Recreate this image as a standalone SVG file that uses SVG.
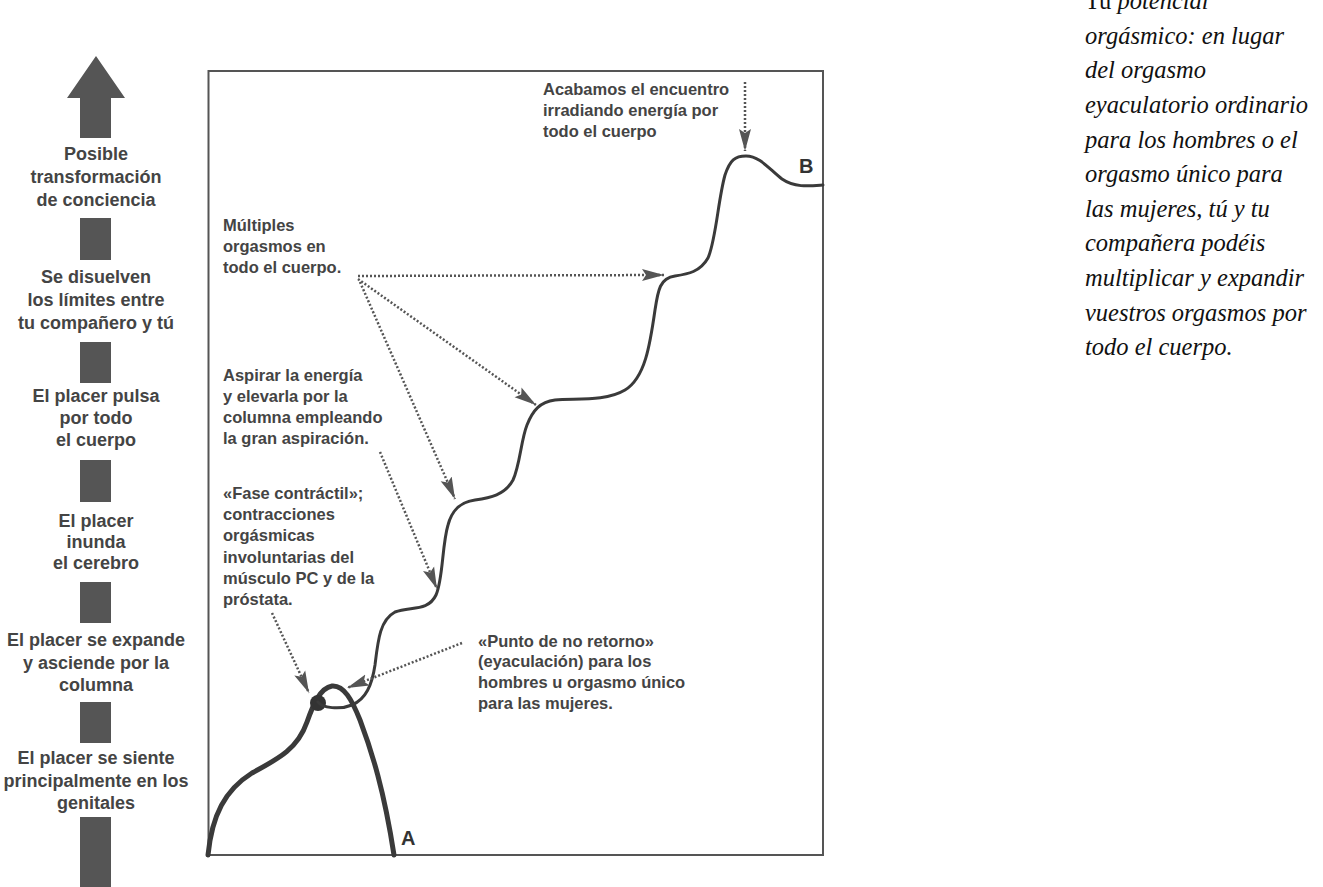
<svg xmlns="http://www.w3.org/2000/svg" width="1323" height="887" viewBox="0 0 1323 887">
<defs>
<style>
.lt{font-family:"Liberation Sans",Arial,sans-serif;font-weight:bold;font-size:18px;fill:#444;text-anchor:middle}
.bl{font-family:"Liberation Sans",Arial,sans-serif;font-weight:bold;font-size:16.5px;fill:#444}
.pt{font-family:"Liberation Sans",Arial,sans-serif;font-weight:900;font-size:20px;fill:#333}
.cap{font-family:"Liberation Serif","Times New Roman",serif;font-size:24.5px;fill:#111;font-style:italic}
.sq{fill:#555}
.dot{fill:none;stroke:#555;stroke-width:2.5;stroke-dasharray:2 2}
.crv{fill:none;stroke:#3a3a3a;stroke-linecap:round;stroke-linejoin:round}
</style>
<marker id="ah" markerUnits="userSpaceOnUse" markerWidth="24" markerHeight="14" refX="22" refY="6" orient="auto" viewBox="0 0 24 12">
<path d="M0,0 L22,6 L0,12 L4,6 z" fill="#555"/>
</marker>
</defs>
<rect width="1323" height="887" fill="#fff"/>

<g id="scale">
<polygon class="sq" points="96,56 125,98 111,98 111,138 80,138 80,98 67,98"/>
<text class="lt" x="96" y="160">Posible</text>
<text class="lt" x="96" y="183">transformación</text>
<text class="lt" x="96" y="206">de conciencia</text>
<rect class="sq" x="80" y="218" width="31" height="42"/>
<text class="lt" x="96" y="283">Se disuelven</text>
<text class="lt" x="96" y="306">los límites entre</text>
<text class="lt" x="96" y="329">tu compañero y tú</text>
<rect class="sq" x="80" y="342" width="31" height="41"/>
<text class="lt" x="96" y="402">El placer pulsa</text>
<text class="lt" x="96" y="424">por todo</text>
<text class="lt" x="96" y="446">el cuerpo</text>
<rect class="sq" x="80" y="460" width="31" height="42"/>
<text class="lt" x="96" y="527">El placer</text>
<text class="lt" x="96" y="548">inunda</text>
<text class="lt" x="96" y="569">el cerebro</text>
<rect class="sq" x="80" y="582" width="31" height="41"/>
<text class="lt" x="96" y="646">El placer se expande</text>
<text class="lt" x="96" y="669">y asciende por la</text>
<text class="lt" x="96" y="691">columna</text>
<rect class="sq" x="80" y="702" width="31" height="41"/>
<text class="lt" x="96" y="764">El placer se siente</text>
<text class="lt" x="96" y="787">principalmente en los</text>
<text class="lt" x="96" y="809">genitales</text>
<rect class="sq" x="80" y="817" width="31" height="70"/>
</g>

<g id="frame">
<rect x="208.5" y="71" width="614.5" height="784" fill="none" stroke="#555" stroke-width="2"/>
</g>

<g id="curve-ordinary">
<path class="crv" stroke-width="5" d="M208,855 C212,815 225,790 252,773 C280,758 298,748 307,722 C313,705 320,688 332,686 C344,685 352,700 360,720 C372,752 384,790 394,855"/>
<circle cx="318" cy="703" r="8" fill="#333"/>
<text class="pt" x="401" y="845">A</text>
</g>

<g id="curve-multiple">
<path class="crv" stroke-width="3" d="M318,702 C322,708 340,710 352,705 C366,699 372,685 375,665 C378,640 380,620 395,612 C410,606 428,612 436,595 C443,580 442,545 448,525 C452,510 460,502 475,500 C490,498 505,495 513,480 C520,465 521,440 527,425 C533,410 540,402 555,400 C575,398 605,402 625,390 C645,378 650,345 655,310 C658,290 660,278 675,276 C688,274 700,272 708,258 C716,240 718,200 725,175 C730,160 735,156 746,156 C760,156 770,170 782,179 C795,188 810,186 823,185"/>
<text class="pt" x="799" y="173">B</text>
</g>

<g id="label-end">
<text class="bl" x="543" y="95">Acabamos el encuentro</text>
<text class="bl" x="543" y="116">irradiando energía por</text>
<text class="bl" x="543" y="137">todo el cuerpo</text>
</g>
<g id="label-multiple">
<text class="bl" x="223" y="231">Múltiples</text>
<text class="bl" x="223" y="252">orgasmos en</text>
<text class="bl" x="223" y="273">todo el cuerpo.</text>
</g>
<g id="label-aspirar">
<text class="bl" x="223" y="381">Aspirar la energía</text>
<text class="bl" x="223" y="402">y elevarla por la</text>
<text class="bl" x="223" y="423">columna empleando</text>
<text class="bl" x="223" y="444">la gran aspiración.</text>
</g>
<g id="label-fase">
<text class="bl" x="223" y="499">«Fase contráctil»;</text>
<text class="bl" x="223" y="520">contracciones</text>
<text class="bl" x="223" y="541">orgásmicas</text>
<text class="bl" x="223" y="563">involuntarias del</text>
<text class="bl" x="223" y="584">músculo PC y de la</text>
<text class="bl" x="223" y="605">próstata.</text>
</g>
<g id="label-punto">
<text class="bl" x="478" y="647">«Punto de no retorno»</text>
<text class="bl" x="478" y="667">(eyaculación) para los</text>
<text class="bl" x="478" y="688">hombres u orgasmo único</text>
<text class="bl" x="478" y="709">para las mujeres.</text>
</g>

<g id="connectors">
<path class="dot" marker-end="url(#ah)" d="M745,82 L745,151"/>
<path class="dot" marker-end="url(#ah)" d="M358,276 L664,275"/>
<path class="dot" marker-end="url(#ah)" d="M358,279 L536,405"/>
<path class="dot" marker-end="url(#ah)" d="M360,282 L455,499"/>
<path class="dot" marker-end="url(#ah)" d="M380,452 L437,589"/>
<path class="dot" marker-end="url(#ah)" d="M272,613 L309,693"/>
<path class="dot" marker-end="url(#ah)" d="M462,643 L347,688"/>
</g>

<g id="caption">
<text class="cap" x="1085" y="9"><tspan font-style="normal">Tu </tspan>potencial</text>
<text class="cap" x="1085" y="44">orgásmico: en lugar</text>
<text class="cap" x="1085" y="78">del orgasmo</text>
<text class="cap" x="1085" y="113">eyaculatorio ordinario</text>
<text class="cap" x="1085" y="148">para los hombres o el</text>
<text class="cap" x="1085" y="182">orgasmo único para</text>
<text class="cap" x="1085" y="217">las mujeres, tú y tu</text>
<text class="cap" x="1085" y="251">compañera podéis</text>
<text class="cap" x="1085" y="286">multiplicar y expandir</text>
<text class="cap" x="1085" y="321">vuestros orgasmos por</text>
<text class="cap" x="1085" y="355">todo el cuerpo.</text>
</g>
</svg>
